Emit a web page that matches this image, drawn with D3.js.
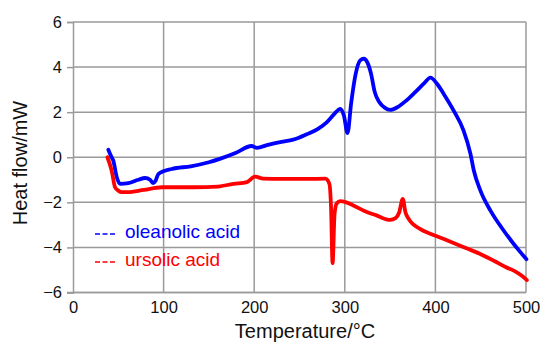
<html lang="en">
<head>
  <meta charset="UTF-8">
  <title>DSC curves</title>
  <style>
    body { margin: 0; background: #fff; }
    text { font-family: "Liberation Sans", Arial, Helvetica, sans-serif; }
  </style>
</head>
<body>
  <div class="svg-target"></div>
  <script src="https://d3js.org/d3.v7.min.js"></script>
  <script>
    const w = 542;
    const h = 344;

    // oleanolic acid (blue)
    const oleanolicTemp = [39, 42, 44.5, 48.3, 52, 61, 72, 79.6, 85, 88.7, 91, 94.3, 109, 130, 150, 162, 180, 197, 203, 215, 230, 243, 258, 270, 280, 288, 295, 299, 303, 307, 312, 317, 321, 325, 329, 333, 338, 344, 350, 358, 368, 378, 388, 394.5, 402, 409, 420, 431, 438.7, 442.4, 449.7, 460.8, 475.5, 494, 500.5];
    const oleanolicHeat = [0.33, 0.05, -0.15, -0.89, -1.18, -1.15, -1.0, -0.92, -1.0, -1.15, -1.05, -0.74, -0.52, -0.4, -0.22, -0.07, 0.2, 0.5, 0.42, 0.55, 0.68, 0.78, 1.02, 1.25, 1.55, 1.9, 2.15, 1.85, 1.07, 2.4, 3.7, 4.3, 4.37, 4.2, 3.7, 2.9, 2.45, 2.2, 2.1, 2.22, 2.52, 2.9, 3.3, 3.53, 3.25, 2.82, 2.08, 1.19, 0.15, -0.59, -1.48, -2.37, -3.26, -4.22, -4.52];

    // ursolic acid (red)
    const ursolicTemp = [38, 42.7, 46.4, 50, 54, 60, 78, 98, 133, 160, 177, 192, 201, 210, 230, 260, 278.5, 283, 284.8, 286.5, 288.7, 291, 295, 299, 310, 321, 335, 350, 356, 360, 364, 367, 370, 383, 395, 405, 420, 435, 450, 465, 478, 487, 495, 501];
    const ursolicHeat = [0.0, -0.6, -1.33, -1.48, -1.55, -1.55, -1.45, -1.33, -1.33, -1.3, -1.18, -1.1, -0.86, -0.95, -0.96, -0.96, -0.95, -1.18, -2.22, -4.7, -2.52, -2.05, -1.95, -1.97, -2.15, -2.37, -2.58, -2.78, -2.7, -2.45, -1.85, -2.45, -2.7, -3.18, -3.4, -3.56, -3.8, -4.05, -4.3, -4.6, -4.88, -5.04, -5.25, -5.45];

    const xTicks = [0, 100, 200, 300, 400, 500];
    const yTicks = [-6, -4, -2, 0, 2, 4, 6];

    const seriesNames = ["oleanolic acid", "ursolic acid"];
    const seriesColors = ["#0000ff", "#ff0000"];

    const svg = d3.select("div.svg-target")
      .append("svg")
      .attr("width", w)
      .attr("height", h);

    const xScale = d3.scaleLinear().domain([0, 500]).range([73, 526]);
    const yScale = d3.scaleLinear().domain([-6, 6]).range([292.5, 22]);

    // grid
    svg.append("g")
      .selectAll("line.vgrid")
      .data(xTicks.slice(1))
      .enter()
      .append("line")
      .attr("x1", d => xScale(d))
      .attr("x2", d => xScale(d))
      .attr("y1", yScale(6))
      .attr("y2", yScale(-6))
      .attr("stroke", "#9a9a9a")
      .attr("stroke-width", 1.5);

    svg.append("g")
      .selectAll("line.hgrid")
      .data(yTicks)
      .enter()
      .append("line")
      .attr("x1", xScale(0))
      .attr("x2", xScale(500))
      .attr("y1", d => yScale(d))
      .attr("y2", d => yScale(d))
      .attr("stroke", "#9a9a9a")
      .attr("stroke-width", 1.5);

    // axes
    const yAxis = d3.axisLeft(yScale)
      .tickValues(yTicks)
      .tickSize(6)
      .tickPadding(5)
      .tickFormat(d => d < 0 ? "\u2212" + Math.abs(d) : d);
    const yG = svg.append("g")
      .attr("transform", "translate(" + xScale(0) + ",0)")
      .call(yAxis);

    const xAxis = d3.axisBottom(xScale)
      .tickValues(xTicks)
      .tickSize(0)
      .tickPadding(9);
    const xG = svg.append("g")
      .attr("transform", "translate(0," + yScale(-6) + ")")
      .call(xAxis);

    [xG, yG].forEach(g => {
      g.select(".domain").attr("stroke", "#9a9a9a").attr("stroke-width", 1.5);
      g.selectAll(".tick line").attr("stroke", "#9a9a9a").attr("stroke-width", 1.5);
      g.selectAll(".tick text")
        .attr("fill", "#111")
        .style("font-size", "16.5px")
        .style("font-family", "'Liberation Sans', Arial, sans-serif");
    });
    xG.select(".domain").attr("d", "M" + (xScale(0) - 6) + ",0H" + xScale(500));

    // axis titles
    svg.append("text")
      .attr("text-anchor", "middle")
      .attr("x", 305)
      .attr("y", 338)
      .style("font-size", "20px")
      .attr("fill", "#111")
      .text("Temperature/\u00B0C");

    svg.append("text")
      .attr("text-anchor", "middle")
      .attr("transform", "translate(27," + 163 + ") rotate(-90)")
      .style("font-size", "20px")
      .attr("fill", "#111")
      .text("Heat flow/mW");

    // curves
    const line = d3.line()
      .x(d => xScale(d[0]))
      .y(d => yScale(d[1]))
      .curve(d3.curveMonotoneX);

    const oleanolicData = oleanolicTemp.map((t, i) => [t, oleanolicHeat[i]]);
    const ursolicData = ursolicTemp.map((t, i) => [t, ursolicHeat[i]]);

    [oleanolicData, ursolicData].forEach((data, i) => {
      svg.append("path")
        .datum(data)
        .attr("fill", "none")
        .attr("stroke", seriesColors[i])
        .attr("stroke-width", 3.8)
        .attr("stroke-linejoin", "round")
        .attr("stroke-linecap", "round")
        .attr("d", line);
    });

    // legend
    const legend = svg.append("g");
    seriesNames.forEach((name, i) => {
      const y = 234 + i * 28;
      legend.append("line")
        .attr("x1", 95)
        .attr("x2", 115)
        .attr("y1", y)
        .attr("y2", y)
        .attr("stroke", seriesColors[i])
        .attr("stroke-width", 1.5)
        .attr("stroke-dasharray", "5,2.5");
      legend.append("text")
        .attr("x", 125)
        .attr("y", y + 4)
        .style("font-size", "19px")
        .attr("fill", seriesColors[i])
        .text(name);
    });
  </script>
</body>
</html>
